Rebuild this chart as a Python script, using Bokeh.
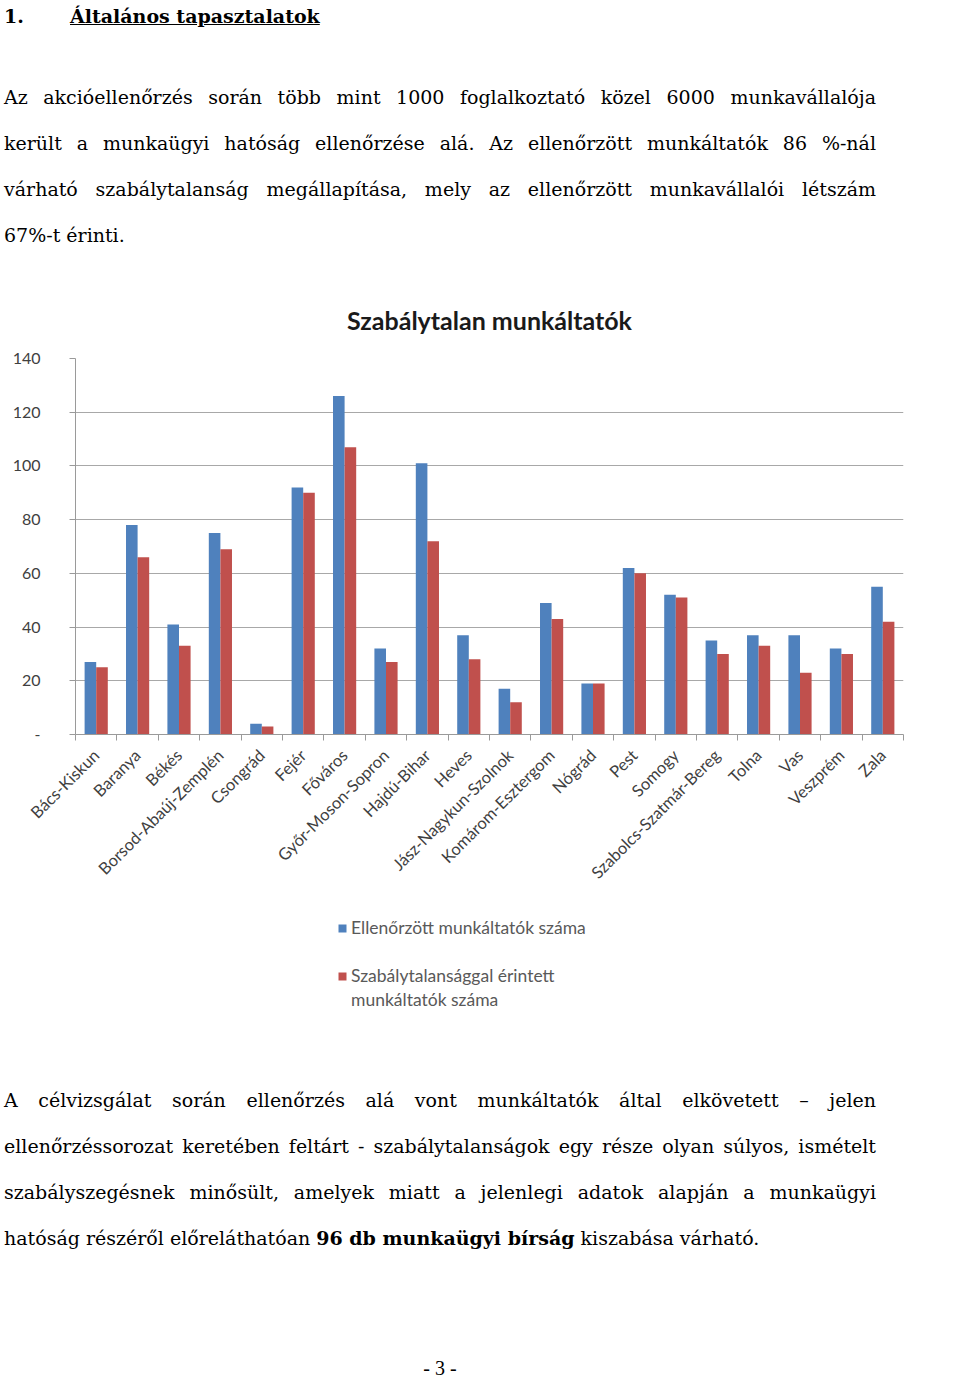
import math
from bokeh.plotting import figure
from bokeh.models import (Div, ColumnDataSource, FixedTicker, Legend, LegendItem, Range1d)
from bokeh.transform import dodge
from bokeh.layouts import column
from bokeh.embed import file_html
from bokeh.resources import INLINE

# ---------------- data ----------------
counties = ["Bács-Kiskun", "Baranya", "Békés", "Borsod-Abaúj-Zemplén", "Csongrád",
            "Fejér", "Főváros", "Győr-Moson-Sopron", "Hajdú-Bihar", "Heves",
            "Jász-Nagykun-Szolnok", "Komárom-Esztergom", "Nógrád", "Pest", "Somogy",
            "Szabolcs-Szatmár-Bereg", "Tolna", "Vas", "Veszprém", "Zala"]
checked = [27, 78, 41, 75, 4, 92, 126, 32, 101, 37, 17, 49, 19, 62, 52, 35, 37, 37, 32, 55]
irregular = [25, 66, 33, 69, 3, 90, 107, 27, 72, 28, 12, 43, 19, 60, 51, 30, 33, 23, 30, 42]
series_names = ["Ellenőrzött munkáltatók száma", "Szabálytalansággal érintett", "munkáltatók száma"]
series_colors = ["#4F81BD", "#C0504D"]
y_ticks = [0, 20, 40, 60, 80, 100, 120, 140]
chart_title = "Szabálytalan munkáltatók"

top_heading_num = "1."
top_heading = "Általános tapasztalatok"
top_lines = [
    "Az akcióellenőrzés során több mint 1000 foglalkoztató közel 6000 munkavállalója",
    "került a munkaügyi hatóság ellenőrzése alá. Az ellenőrzött munkáltatók 86 %-nál",
    "várható szabálytalanság megállapítása, mely az ellenőrzött munkavállalói létszám",
    "67%-t érinti.",
]
bottom_lines = [
    "A célvizsgálat során ellenőrzés alá vont munkáltatók által elkövetett – jelen",
    "ellenőrzéssorozat keretében feltárt - szabálytalanságok egy része olyan súlyos, ismételt",
    "szabályszegésnek minősült, amelyek miatt a jelenlegi adatok alapján a munkaügyi",
    "hatóság részéről előreláthatóan <b>96 db munkaügyi bírság</b> kiszabása várható.",
]
page_no = "- 3 -"

SERIF = "'DejaVu Serif', serif"
FS = 19
W = 960


def para_line(text, top, justify=True):
    last = "justify" if justify else "left"
    return (f'<div style="position:absolute;left:4px;top:{top}px;width:872px;'
            f'white-space:nowrap;text-align:justify;text-align-last:{last};'
            f'line-height:46px;font-size:{FS}px;">{text}</div>')


top_html = (f'<div style="position:relative;width:{W}px;height:278px;font-family:{SERIF};color:#000;">'
            f'<div style="position:absolute;left:4px;top:4px;font-weight:bold;font-size:{FS}px;line-height:24px;white-space:nowrap;">'
            f'{top_heading_num}<span style="position:absolute;left:66px;text-decoration:underline;">{top_heading}</span></div>')
for i, t in enumerate(top_lines):
    top_html += para_line(t, 74 + 46 * i, justify=(i < len(top_lines) - 1))
top_html += '</div>'

bottom_html = f'<div style="position:relative;width:{W}px;height:348px;font-family:{SERIF};color:#000;">'
for i, t in enumerate(bottom_lines):
    bottom_html += para_line(t, 47 + 46 * i, justify=(i < len(bottom_lines) - 1))
bottom_html += (f'<div style="position:absolute;left:390px;top:326px;width:100px;text-align:center;'
                f'font-family:\'Liberation Serif\', serif;font-size:20px;line-height:24px;">{page_no}</div>')
bottom_html += '</div>'

div_top = Div(text=top_html, width=W, height=278, margin=0)
div_bottom = Div(text=bottom_html, width=W, height=348, margin=0)

# ---------------- chart ----------------
n = len(counties)
src = ColumnDataSource(dict(x=[i + 0.5 for i in range(n)], checked=checked, irregular=irregular))

p = figure(width=W, height=627, output_backend="svg", toolbar_location=None,
           x_range=Range1d(0, n), y_range=Range1d(0, 140),
           min_border_left=75, min_border_right=57, min_border_top=78, min_border_bottom=171,
           title=chart_title)
p.margin = 0
p.outline_line_color = None
p.background_fill_color = "white"
p.border_fill_color = "white"

p.title.align = "center"
p.title.text_font = "Lato"
p.title.text_font_size = "25px"
p.title.text_font_style = "bold"
p.title.text_color = "#1a1a1a"
p.title.standoff = 48

bw = 0.28
r1 = p.vbar(x=dodge("x", -bw / 2, range=p.x_range), top="checked", width=bw, source=src,
            fill_color=series_colors[0], line_color=None)
r2 = p.vbar(x=dodge("x", bw / 2, range=p.x_range), top="irregular", width=bw, source=src,
            fill_color=series_colors[1], line_color=None)

# y axis
p.yaxis.ticker = FixedTicker(ticks=y_ticks)
p.yaxis.major_label_overrides = {0: "-"}
p.yaxis.axis_line_color = "#9a9a9a"
p.yaxis.major_tick_line_color = "#9a9a9a"
p.yaxis.major_tick_out = 6
p.yaxis.major_tick_in = 0
p.yaxis.minor_tick_line_color = None
p.yaxis.major_label_standoff = 29
p.yaxis.major_label_text_font = "Lato"
p.yaxis.major_label_text_font_size = "16px"
p.yaxis.major_label_text_color = "#404040"
p.ygrid.grid_line_color = "#a8a8a8"
p.ygrid.grid_line_width = 1

# x axis: labels at category centres, small ticks at category boundaries
p.xaxis.ticker = FixedTicker(ticks=[i + 0.5 for i in range(n)], minor_ticks=list(range(n + 1)))
p.xaxis.major_label_overrides = {i + 0.5: c for i, c in enumerate(counties)}
p.xaxis.major_label_orientation = math.pi / 4
p.xaxis.major_tick_out = 0
p.xaxis.major_tick_in = 0
p.xaxis.minor_tick_out = 6
p.xaxis.minor_tick_in = 0
p.xaxis.minor_tick_line_color = "#9a9a9a"
p.xaxis.axis_line_color = "#9a9a9a"
p.xaxis.major_label_standoff = 12
p.xaxis.major_label_text_font = "Lato"
p.xaxis.major_label_text_font_size = "16.5px"
p.xaxis.major_label_text_color = "#404040"
p.xgrid.grid_line_color = None

# ---------------- legend panel (below the chart) ----------------
pl = figure(width=W, height=125, output_backend="svg", toolbar_location=None,
            x_range=Range1d(0, n), y_range=Range1d(0, 140),
            min_border_left=75, min_border_right=57, min_border_top=0, min_border_bottom=0,
            x_axis_location=None, y_axis_location=None)
pl.margin = 0
pl.outline_line_color = None
pl.grid.visible = False
pl.background_fill_color = "white"
pl.border_fill_color = "white"
# same series, hidden here: they only supply the legend swatches
k1 = pl.vbar(x="x", top="checked", width=bw, source=src,
             fill_color=series_colors[0], line_color=None, visible=False)
k2 = pl.vbar(x="x", top="irregular", width=bw, source=src,
             fill_color=series_colors[1], line_color=None, visible=False)


def make_legend(items, loc, spacing):
    lg = Legend(items=items, location=loc, orientation="vertical")
    lg.border_line_color = None
    lg.background_fill_alpha = 0
    lg.padding = 0
    lg.margin = 0
    lg.spacing = spacing
    lg.glyph_width = 10
    lg.glyph_height = 10
    lg.label_standoff = 4
    lg.label_height = 20
    lg.label_text_font = "Lato"
    lg.label_text_font_size = "17.5px"
    lg.label_text_color = "#595959"
    lg.inactive_fill_alpha = 0
    return lg


leg_a = make_legend([LegendItem(label=series_names[0], renderers=[k1])], (262, 92), 0)
leg_b = make_legend([LegendItem(label=series_names[1], renderers=[k2]),
                     LegendItem(label=series_names[2], renderers=[])], (262, 20), 3)
pl.add_layout(leg_a, "center")
pl.add_layout(leg_b, "center")

layout = column(div_top, p, pl, div_bottom, spacing=0)

open("out.html", "w").write(file_html(layout, INLINE))
